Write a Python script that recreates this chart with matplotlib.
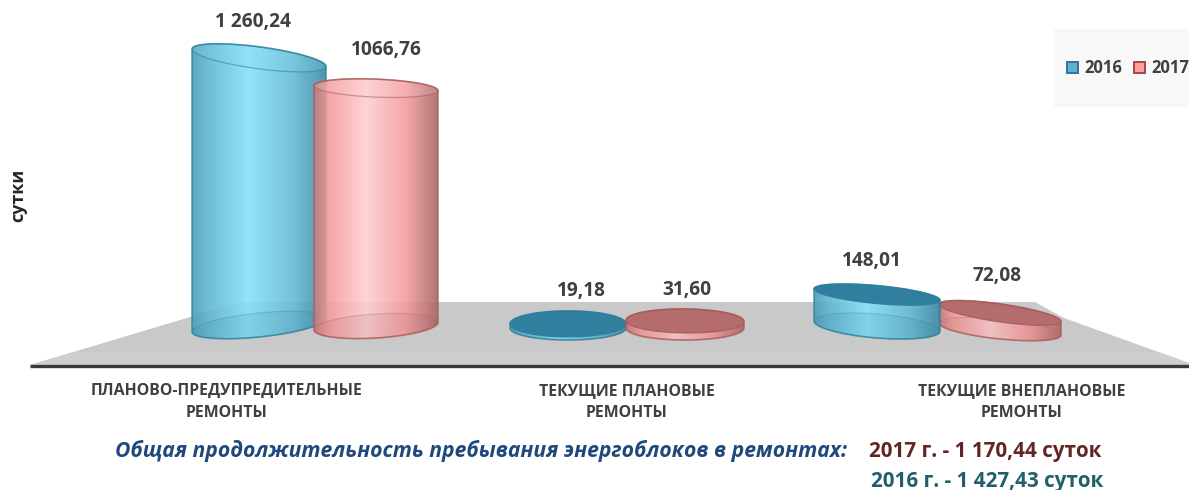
import numpy as np
import matplotlib
matplotlib.use("Agg")
import matplotlib.pyplot as plt
from matplotlib.path import Path
from matplotlib.patches import PathPatch, Polygon, Rectangle, Patch
from matplotlib.colors import LinearSegmentedColormap

# ---- data ----
categories = ["ПЛАНОВО-ПРЕДУПРЕДИТЕЛЬНЫЕ\nРЕМОНТЫ", "ТЕКУЩИЕ ПЛАНОВЫЕ\nРЕМОНТЫ", "ТЕКУЩИЕ ВНЕПЛАНОВЫЕ\nРЕМОНТЫ"]
series_names = ["2016", "2017"]
values_2016 = [1260.24, 19.18, 148.01]
values_2017 = [1066.76, 31.60, 72.08]
labels_2016 = ["1 260,24", "19,18", "148,01"]
labels_2017 = ["1066,76", "31,60", "72,08"]
ylabel = "сутки"
summary_title = "Общая продолжительность пребывания энергоблоков в ремонтах:"
summary_2017 = "2017 г. - 1 170,44 суток"
summary_2016 = "2016 г. - 1 427,43 суток"

# ---- style / layout (pixels of the 1189x490 canvas) ----
W, H = 1189, 490
FONT = "Open Sans"
TXT = "#404040"
centers = {"2016": [259, 568, 877], "2017": [376, 685, 1000]}
half_w = {"2016": [67, 58, 63], "2017": [62, 59, 61]}
base = {"2016": [325, 328, 326], "2017": [326, 328, 329]}
scale = {"2016": 0.212, "2017": 0.223}
semi_top = {"2016": [11, 13, 9], "2017": [9, 12, 9]}
semi_bot = {"2016": [12, 12, 12], "2017": [12, 12, 10]}
tilt_top = {"2016": [0.13, 0.0, 0.09], "2017": [0.04, 0.01, 0.14]}
tilt_bot = {"2016": [-0.10, 0.0, 0.08], "2017": [-0.06, 0.0, 0.10]}
label_xy = {"2016": [(253, 22), (581, 291), (872, 261)],
            "2017": [(386, 50), (687, 290), (997, 276)]}
cat_x = [227, 627, 1022]
grad = {
    "2016": ["#4c9cb6", "#5fb6d0", "#86e2fa", "#66bcd6", "#3d8aa4"],
    "2017": ["#c27a7a", "#f59c9c", "#ffcfd2", "#f29c9c", "#a96565"],
}
grad_pos = [0.0, 0.12, 0.42, 0.75, 1.0]
edge = {"2016": "#2f7f9c", "2017": "#a85c5c"}
top_dark = {"2016": "#317f9e", "2017": "#b56c6c"}
legend_fc = {"2016": "#5cb4d0", "2017": "#ff9f9f"}
legend_ec = {"2016": "#3a6f9e", "2017": "#9c4a4a"}

plt.rcParams["font.family"] = [FONT, "DejaVu Sans"]
fig = plt.figure(figsize=(W / 100, H / 100), dpi=100, facecolor="white")
ax = fig.add_axes([0, 0, 1, 1])
ax.set_xlim(0, W)
ax.set_ylim(H, 0)
ax.axis("off")

# one value axis for each series, sharing the canvas
vax = {}
for name in series_names:
    a = fig.add_axes([0, 0, 1, 1], zorder=-5)
    a.set_xlim(0, W)
    a.set_ylim((325 - H) / scale[name], 325 / scale[name])
    a.axis("off")
    vax[name] = a


def value_px(name, value):
    """Pixel height of a value, through the series' value axis."""
    a = vax[name]
    y0 = a.transData.transform((0, 0))[1]
    y1 = a.transData.transform((0, value))[1]
    return y1 - y0


# floor
floor = Polygon([(30, 365), (240, 302), (1035, 302), (1064, 318), (1189, 363), (1189, 365)],
                closed=True, fc="#c9c9c9", ec="none", zorder=1)
ax.add_patch(floor)
band = Rectangle((30, 352), 1159, 13, fc="#cfcfcf", ec="none", zorder=1.1)
ax.add_patch(band)
band.set_clip_path(floor)
ax.plot([30, 1189], [365.5, 365.5], color="#3a3a3a", lw=2.4, solid_capstyle="butt", zorder=2)


def ell(cx, cy, a, b, k, t):
    return cx + a * np.cos(t), cy + b * np.sin(t) + k * a * np.cos(t)


def closed_path(x, y):
    v = np.column_stack([x, y])
    return Path(np.vstack([v, v[0]]))


def cylinder(name, i, values, z):
    cx, a = centers[name][i], half_w[name][i]
    yb = base[name][i]
    yt = yb - value_px(name, values[i])
    bt, bb = semi_top[name][i], semi_bot[name][i]
    kt, kb = tilt_top[name][i], tilt_bot[name][i]
    tall = values[i] > 500
    # silhouette
    top_t = np.linspace(np.pi, 2 * np.pi, 60)
    bot_t = np.linspace(0, np.pi, 60)
    tx, ty = ell(cx, yt, a, bt, kt, top_t)
    bx, by = ell(cx, yb, a, bb, kb, bot_t)
    sil = closed_path(np.r_[tx, bx], np.r_[ty, by])
    cmap = LinearSegmentedColormap.from_list(name, list(zip(grad_pos, grad[name])))
    im = ax.imshow(np.linspace(0, 1, 256)[None, :], cmap=cmap, vmin=0, vmax=1, aspect="auto",
                   extent=(cx - a, cx + a, yb + bb + 10, yt - bt - 10), zorder=z,
                   interpolation="bilinear", alpha=0.9)
    ax.add_patch(PathPatch(sil, fc="none", ec=edge[name], lw=1.2, zorder=z + 0.3, alpha=0.75))
    im.set_clip_path(PathPatch(sil, transform=ax.transData))
    # bottom ellipse
    t = np.linspace(0, 2 * np.pi, 120)
    x, y = ell(cx, yb, a, bb, kb, t)
    ax.add_patch(PathPatch(closed_path(x, y), fc=edge[name], alpha=0.12, ec="none", zorder=z + 0.1))
    ax.add_patch(PathPatch(closed_path(x, y), fc="none", ec=edge[name], alpha=0.3, lw=0.8, zorder=z + 0.15))
    # top ellipse
    x, y = ell(cx, yt, a, bt, kt, t)
    ax.add_patch(PathPatch(closed_path(x, y),
                           fc=(grad[name][2] if tall else top_dark[name]),
                           alpha=(0.2 if tall else 1.0),
                           ec="none", zorder=z + 0.2))
    ax.add_patch(PathPatch(closed_path(x, y), fc="none", ec=edge[name],
                           alpha=(0.55 if tall else 0.9), lw=0.9, zorder=z + 0.25))


cylinder("2016", 0, values_2016, 3)
cylinder("2017", 0, values_2017, 4)
cylinder("2016", 1, values_2016, 3)
cylinder("2017", 1, values_2017, 4)
cylinder("2017", 2, values_2017, 3)
cylinder("2016", 2, values_2016, 4)
ax.set_xlim(0, W)
ax.set_ylim(H, 0)

# value labels
for name, labs in zip(series_names, (labels_2016, labels_2017)):
    for (x, y), s in zip(label_xy[name], labs):
        ax.text(x, y, s, ha="center", va="center", fontsize=13.8, fontweight="bold", color=TXT, zorder=10)

# category labels
for x, c in zip(cat_x, categories):
    ax.text(x, 402, c, ha="center", va="center", fontsize=11.4, fontweight="bold", color=TXT,
            linespacing=1.5, zorder=10)

ax.text(18, 195, ylabel, rotation=90, ha="center", va="center", fontsize=13, fontweight="bold", color="#262626")

# legend
ax.add_patch(Rectangle((1054, 29), 135, 78, fc="#f8f8f8", ec="none", zorder=1))
handles = [Patch(fc=legend_fc[n], ec=legend_ec[n], lw=1.4, label=n) for n in series_names]
ax.legend(handles=handles, loc="center left", bbox_to_anchor=(1067 / W, 1 - 68 / H), frameon=False, ncol=2,
          prop={"family": FONT, "weight": "bold", "size": 12}, labelcolor=TXT,
          handlelength=0.66, handleheight=0.66, handletextpad=0.4, columnspacing=0.7, borderaxespad=0, borderpad=0)

# summary
ax.text(847, 451, summary_title, ha="right", va="center", fontsize=15.2, fontweight="bold", fontstyle="italic", color="#1f497d")
ax.text(869, 451, summary_2017, ha="left", va="center", fontsize=14.9, fontweight="bold", color="#632523")
ax.text(871, 481, summary_2016, ha="left", va="center", fontsize=14.9, fontweight="bold", color="#215f6b")

fig.savefig("out.png", dpi=100, facecolor="white")
